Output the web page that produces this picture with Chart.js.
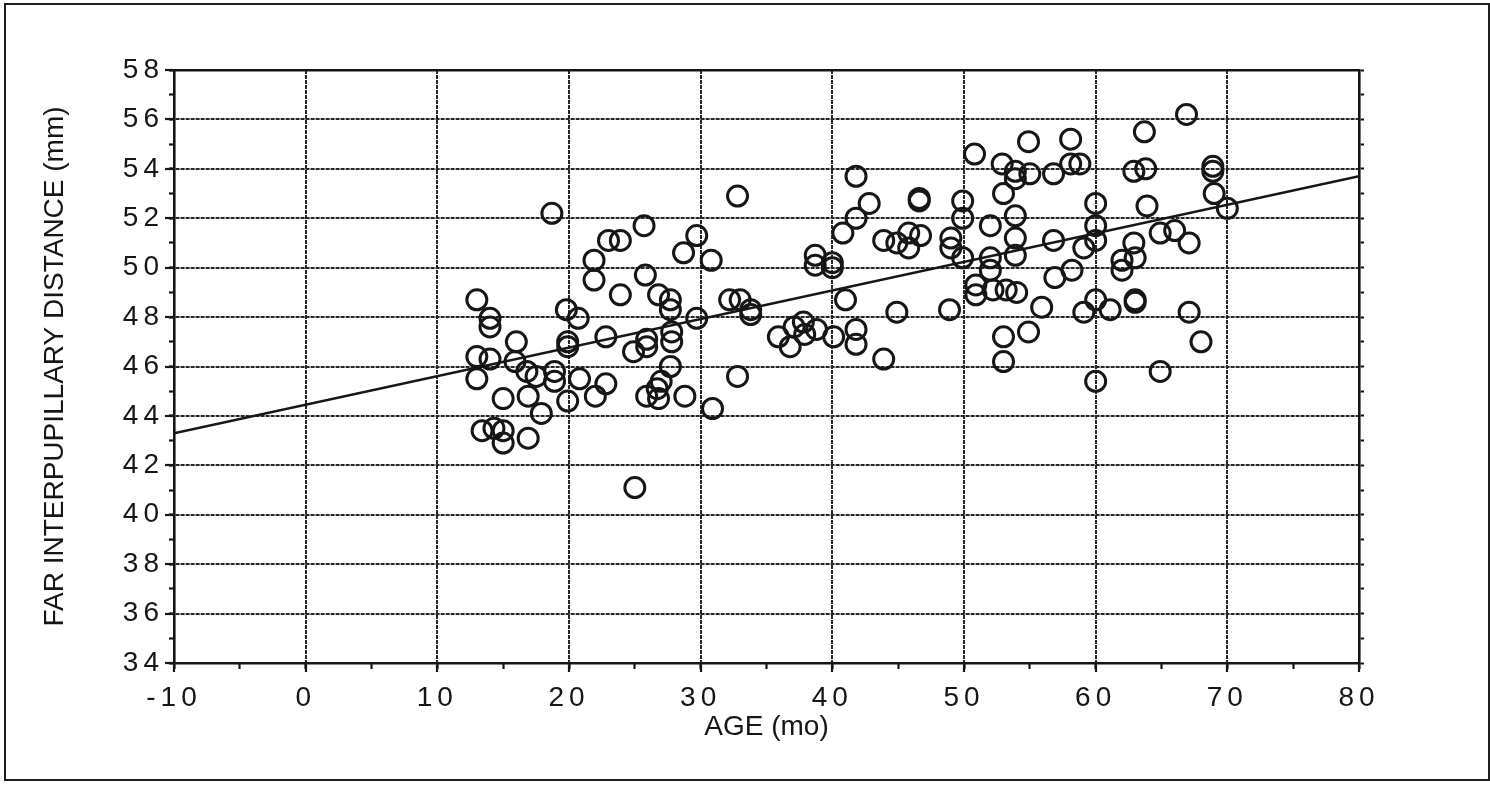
<!DOCTYPE html>
<html>
<head>
<meta charset="utf-8">
<script src="https://cdn.jsdelivr.net/npm/chart.js@4/dist/chart.umd.min.js"></script>
<style>
  html, body { margin: 0; padding: 0; background: #ffffff; }
  #wrap { position: relative; width: 1490px; height: 785px; overflow: hidden; }
  #frame { position: absolute; left: 4px; top: 3px; width: 1482px; height: 774px; border: 2px solid #1e1e1e; pointer-events: none; }
  canvas { position: absolute; left: 0; top: 0; }
</style>
</head>
<body>
<div id="wrap">
  <canvas id="c" width="1490" height="785"></canvas>
  <div id="frame"></div>
</div>
<script>
// ---- data ----
const ageMonths = [
  13.0, 13.0, 13.0, 13.4,
  14.0, 14.0, 14.0, 14.3,
  15.0, 15.0, 15.0,
  16.0, 15.9,
  16.8, 16.9, 16.9,
  17.5, 17.9,
  18.7, 18.9, 18.9,
  19.8, 19.9, 19.9, 19.9,
  20.7, 20.8,
  21.9, 21.9, 22.0,
  22.8, 22.8,
  23.0, 23.9, 23.9,
  24.9, 25.0,
  25.7, 25.8, 25.9, 25.9, 25.9,
  26.7, 26.8, 26.8, 27.0,
  27.7, 27.7, 27.8, 27.8, 27.7,
  28.7, 28.8,
  29.7, 29.7,
  30.8, 30.9,
  32.2, 33.0, 32.8, 32.8,
  33.8, 33.8,
  35.9, 36.8, 37.1, 37.8, 37.9, 38.8,
  38.7, 38.7,
  40.0, 40.0, 40.1,
  40.8, 41.0,
  41.8, 41.8, 41.8, 41.8,
  42.8,
  43.9, 43.9,
  44.9, 44.9,
  45.8, 45.8,
  46.6, 46.6, 46.7,
  48.9, 49.0, 49.0,
  49.9, 49.9, 49.9,
  50.8, 50.9, 50.9,
  52.0, 52.0, 52.0, 52.2,
  52.9, 53.0, 53.2, 53.0, 53.0,
  53.9, 53.9, 53.9, 53.9, 53.9, 54.0,
  54.9, 55.0, 54.9,
  55.9,
  56.8, 56.8, 56.9,
  58.1, 58.1, 58.2,
  58.8, 59.1, 59.1,
  60.0, 60.0, 60.0, 60.0, 60.0,
  61.1,
  62.0, 62.0,
  62.9, 62.9, 63.0, 63.0, 63.0,
  63.7, 63.8, 63.9,
  64.9, 64.9,
  66.0,
  66.9, 67.1, 67.1,
  68.0,
  68.9, 68.9, 69.0,
  70.0
];
const farIPD = [
  48.7, 46.4, 45.5, 43.4,
  47.95, 47.6, 46.3, 43.5,
  44.7, 43.4, 42.9,
  47.0, 46.2,
  45.8, 44.8, 43.1,
  45.6, 44.1,
  52.2, 45.8, 45.4,
  48.3, 47.0, 46.8, 44.6,
  47.95, 45.5,
  50.3, 49.5, 44.8,
  47.2, 45.3,
  51.1, 51.1, 48.9,
  46.6, 41.1,
  51.7, 49.7, 47.1, 46.8, 44.8,
  45.1, 44.7, 48.9, 45.4,
  48.7, 48.3, 47.4, 47.0, 46.0,
  50.6, 44.8,
  51.3, 47.95,
  50.3, 44.3,
  48.7, 48.7, 52.9, 45.6,
  48.3, 48.1,
  47.2, 46.8, 47.6, 47.8, 47.3, 47.5,
  50.5, 50.1,
  50.2, 50.0, 47.2,
  51.4, 48.7,
  53.7, 52.0, 47.5, 46.9,
  52.6,
  51.1, 46.3,
  51.0, 48.2,
  51.4, 50.8,
  52.8, 52.7, 51.3,
  48.3, 51.2, 50.8,
  52.7, 52.0, 50.4,
  54.6, 49.3, 48.9,
  51.7, 50.4, 49.9, 49.1,
  54.2, 53.0, 49.1, 47.2, 46.2,
  53.9, 53.6, 52.1, 51.2, 50.5, 49.0,
  55.1, 53.8, 47.4,
  48.4,
  53.8, 51.1, 49.6,
  55.2, 54.2, 49.9,
  54.2, 50.8, 48.2,
  52.6, 51.7, 51.1, 48.7, 45.4,
  48.3,
  50.3, 49.9,
  53.9, 51.0, 50.4, 48.7, 48.6,
  55.5, 54.0, 52.5,
  51.4, 45.8,
  51.5,
  56.2, 51.0, 48.2,
  47.0,
  54.1, 53.9, 53.0,
  52.4
];
// regression line end points
const fitAges = [-10, 80];
const fitIPD = [43.3, 53.7];
// axes
const xTickValues = [-10, 0, 10, 20, 30, 40, 50, 60, 70, 80];
const yTickValues = [34, 36, 38, 40, 42, 44, 46, 48, 50, 52, 54, 56, 58];
const xTitle = 'AGE (mo)';
const yTitle = 'FAR INTERPUPILLARY DISTANCE (mm)';

// ---- chart ----
const INK = '#161616';
const GRID = '#262626';
const FONT = "'Liberation Sans', Arial, Helvetica, sans-serif";

const scatterPoints = ageMonths.map((a, i) => ({ x: a, y: farIPD[i] }));
const linePoints = fitAges.map((a, i) => ({ x: a, y: fitIPD[i] }));

const letterSpacingPlugin = {
  id: 'tickLetterSpacing',
  afterDatasetsDraw(chart) { chart.ctx.letterSpacing = '5px'; },
  afterDraw(chart) { chart.ctx.letterSpacing = '0px'; }
};

const xMin = xTickValues[0], xMax = xTickValues[xTickValues.length - 1];
const yMin = yTickValues[0], yMax = yTickValues[yTickValues.length - 1];

new Chart(document.getElementById('c'), {
  type: 'scatter',
  data: {
    datasets: [
      {
        type: 'scatter',
        data: scatterPoints,
        pointStyle: 'circle',
        pointRadius: 10,
        pointHoverRadius: 10,
        pointBorderWidth: 3,
        borderColor: INK,
        backgroundColor: 'rgba(0,0,0,0)',
        order: 2
      },
      {
        type: 'line',
        data: linePoints,
        borderColor: INK,
        borderWidth: 2.6,
        pointRadius: 0,
        fill: false,
        tension: 0,
        order: 1
      }
    ]
  },
  options: {
    responsive: false,
    animation: false,
    devicePixelRatio: 1,
    events: [],
    layout: { padding: { left: 0, top: 70, right: 126, bottom: 0 } },
    plugins: { legend: { display: false }, tooltip: { enabled: false } },
    scales: {
      x: {
        type: 'linear', position: 'bottom', min: xMin, max: xMax,
        afterBuildTicks: s => { s.ticks = xTickValues.map(v => ({ value: v })); },
        afterFit: s => { s.height = 122; },
        ticks: { color: INK, font: { family: FONT, size: 28 }, padding: 9, z: 1, maxRotation: 0, autoSkip: false },
        grid: { color: GRID, lineWidth: 2, tickLength: 9, tickColor: INK, tickWidth: 2.2 },
        border: { display: true, color: INK, width: 2.6, dash: [4, 1] },
        title: { display: true, text: xTitle, color: INK, font: { family: FONT, size: 28 }, padding: { top: 0, bottom: 41 } }
      },
      y: {
        type: 'linear', position: 'left', min: yMin, max: yMax,
        afterBuildTicks: s => { s.ticks = yTickValues.map(v => ({ value: v })); },
        afterFit: s => { s.width = 174; },
        ticks: { color: INK, font: { family: FONT, size: 28 }, padding: 1, z: 1, autoSkip: false },
        grid: { color: GRID, lineWidth: 2, tickLength: 9, tickColor: INK, tickWidth: 2.2 },
        border: { display: true, color: INK, width: 2.6, dash: [4, 1] },
        title: { display: true, text: yTitle, color: INK, font: { family: FONT, size: 28 }, padding: { top: 38, bottom: 0 } }
      },
      xTop: {
        type: 'linear', axis: 'x', position: 'top', min: xMin, max: xMax,
        afterFit: s => { s.height = 0; },
        ticks: { display: false },
        grid: { drawOnChartArea: false, drawTicks: false },
        border: { display: true, color: INK, width: 2.6 }
      },
      yRight: {
        type: 'linear', axis: 'y', position: 'right', min: yMin, max: yMax,
        afterFit: s => { s.width = 5; },
        ticks: { display: false, stepSize: 1 },
        grid: { drawOnChartArea: false, drawTicks: true, tickLength: 5, tickColor: INK, tickWidth: 2 },
        border: { display: true, color: INK, width: 2.6 }
      },
      xMinor: {
        type: 'linear', axis: 'x', position: { y: yMin }, min: xMin, max: xMax,
        ticks: { display: false, stepSize: 5 },
        grid: { drawOnChartArea: false, drawTicks: true, tickLength: 6, tickColor: INK, tickWidth: 2.2 },
        border: { display: false }
      },
      yMinor: {
        type: 'linear', axis: 'y', position: { x: xMin }, min: yMin, max: yMax,
        ticks: { display: false, stepSize: 1 },
        grid: { drawOnChartArea: false, drawTicks: true, tickLength: 5, tickColor: INK, tickWidth: 2.2 },
        border: { display: false }
      }
    }
  },
  plugins: [letterSpacingPlugin]
});
</script>
</body>
</html>
